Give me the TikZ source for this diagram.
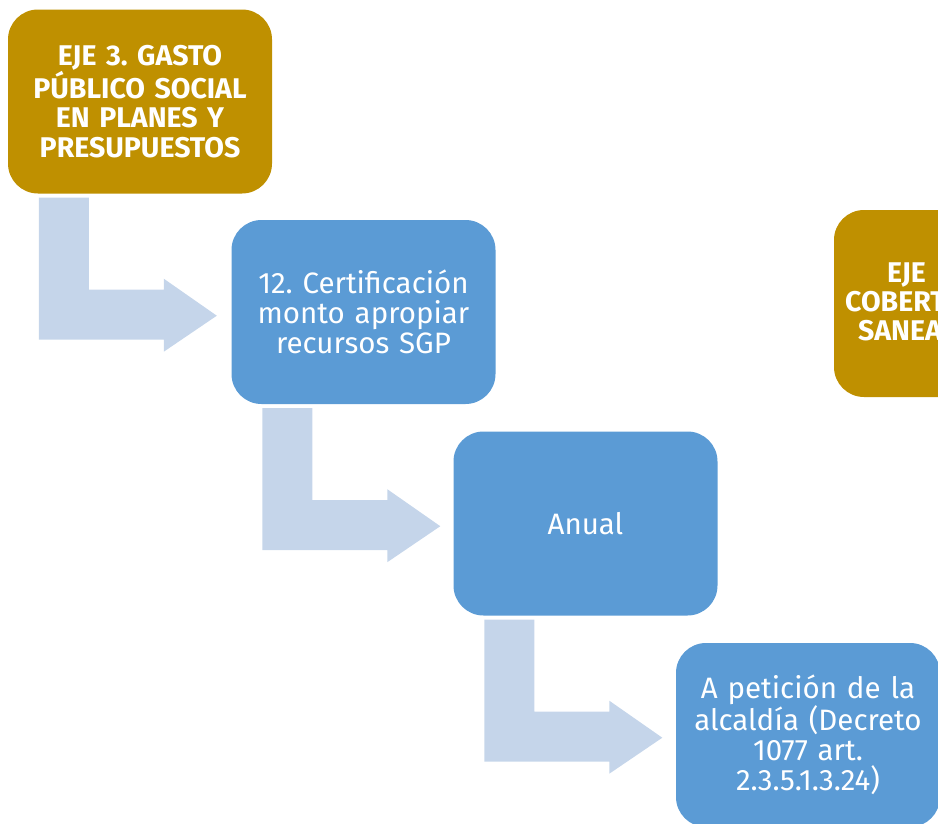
\documentclass[tikz,border=0pt]{standalone}
\usepackage{fontspec}
\setmainfont{Fira Sans}
\frenchspacing
\usetikzlibrary{calc}
\definecolor{gold}{HTML}{BF9000}
\definecolor{boxblue}{HTML}{5B9BD5}
\definecolor{arrowblue}{HTML}{C5D5EA}
\tikzset{
  box/.style={rounded corners=30pt, minimum width=264pt, minimum height=184pt,
    text width=260pt, align=center, inner sep=0pt, text=white},
  goldbox/.style={box, fill=gold, font=\fontsize{28.5}{29.5}\selectfont\bfseries},
  bluebox/.style={box, fill=boxblue, font=\fontsize{29.5}{30}\selectfont},
  parttext/.style={anchor=base west, inner sep=0pt, text=white, font=\fontsize{28.5}{29.5}\selectfont\bfseries},
  bent/.style={fill=arrowblue, draw=none},
}
\begin{document}
\begin{tikzpicture}[x=1pt,y=-1pt]
\useasboundingbox (0,0) rectangle (938,823);
\clip (0,0) rectangle (938,823);
\node[goldbox] (b1) at (140,101.5) {EJE 3. GASTO\\PÚBLICO SOCIAL\\EN PLANES Y\\PRESUPUESTOS};
\node[bluebox] (b2) at (363.5,312) {12. Certificación\\monto apropiar\\recursos SGP};
\node[bluebox] (b3) at (585.5,523.5) {Anual};
\node[bluebox] (b4) at (808,735) {A petición de la\\alcaldía (Decreto\\1077 art.\\2.3.5.1.3.24)};
\node[goldbox, minimum height=187pt] (b5) at (966,303.5) {};
\node[parttext] (t1) at (887,282) {EJE};
\node[parttext] (t2) at (845,311) {COBERT};
\node[parttext] (t3) at (858,340) {SANEA};
\foreach \a/\b in {b1/b2,b2/b3,b3/b4}{
  \fill[bent] ($(\a.south west)+(31,4)$) -- ++(0,142) -- ++(125,0) -- ++(0,12)
    -- ++(53,-36) -- ++(-53,-37) -- ++(0,11) -- ++(-75,0) -- ++(0,-92) -- cycle;
}
\end{tikzpicture}
\end{document}
